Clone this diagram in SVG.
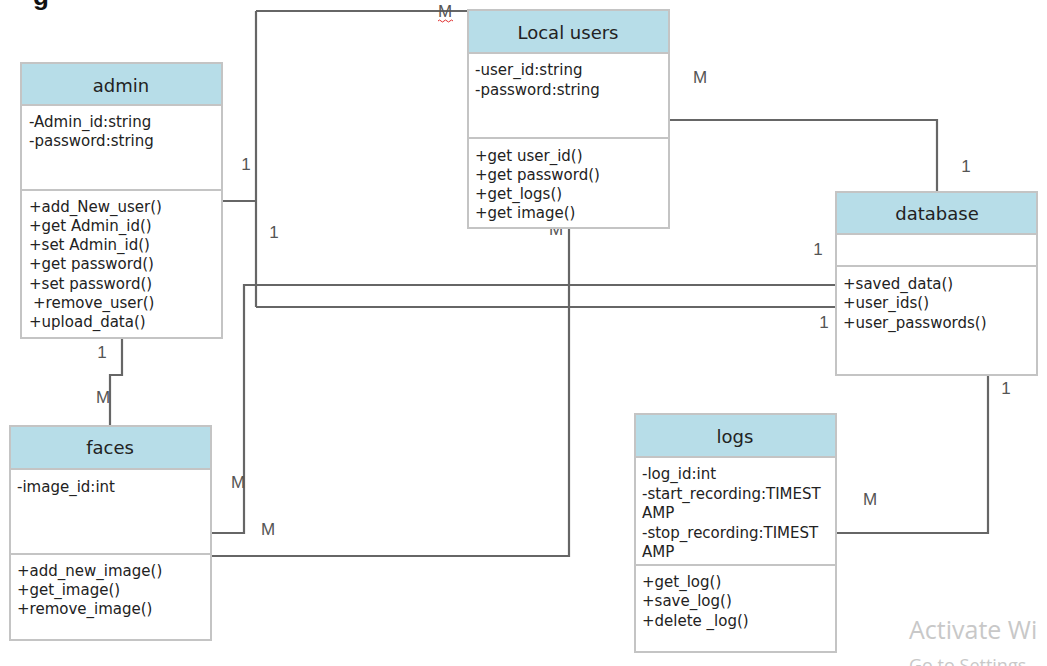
<svg xmlns="http://www.w3.org/2000/svg" width="1047" height="666" viewBox="0 0 1047 666">
  <style>
    .box { fill: #ffffff; stroke: #c4c4c4; stroke-width: 2; }
    .head { fill: #b7dde8; stroke: #c4c4c4; stroke-width: 2; }
    .sep { stroke: #c4c4c4; stroke-width: 2; }
    .title { font-family: "DejaVu Sans", sans-serif; font-size: 18px; fill: #222; text-anchor: middle; }
    .item { font-family: "DejaVu Sans", sans-serif; font-size: 15px; fill: #222; }
    .wire { fill: none; stroke: #666666; stroke-width: 2.2; }
    .mult { font-family: "Liberation Sans", sans-serif; font-size: 17px; fill: #555; text-anchor: middle; }
    .mark { font-family: "Open Sans", "Noto Sans", sans-serif; fill: #c8c8c8; }
  </style>

  <!-- clipped heading above the chart -->
  <text x="33" y="5" font-family="Liberation Sans, sans-serif" font-size="26" font-weight="bold" fill="#111">g</text>

  <!-- associations -->
  <g id="connectors">
    <path class="wire" d="M222,201 H256 M256,11 V307 M256,11 H468 M256,307 H836"/>
    <path class="wire" d="M211,533 H244 V285 H836"/>
    <path class="wire" d="M211,556 H569 V228"/>
    <path class="wire" d="M669,120 H937 V192"/>
    <path class="wire" d="M122,338 V375 H110 V426"/>
    <path class="wire" d="M988,375 V533 H836"/>
  </g>

  <!-- multiplicities -->
  <g id="labels">
    <text class="mult" x="246" y="170">1</text>
    <text class="mult" x="274" y="238">1</text>
    <text class="mult" x="445" y="17">M</text>
    <path d="M438,21 q1.5,-2 3,0 t3,0 t3,0 t3,0 t3,0" fill="none" stroke="#e03030" stroke-width="1"/>
    <text class="mult" x="700" y="83">M</text>
    <text class="mult" x="966" y="172">1</text>
    <text class="mult" x="818" y="255">1</text>
    <text class="mult" x="824" y="328">1</text>
    <text class="mult" x="556" y="235">M</text>
    <text class="mult" x="102" y="358">1</text>
    <text class="mult" x="103" y="403">M</text>
    <text class="mult" x="238" y="488">M</text>
    <text class="mult" x="268" y="535">M</text>
    <text class="mult" x="1006" y="394">1</text>
    <text class="mult" x="870" y="505">M</text>
  </g>

  <g id="admin">
    <rect class="box" x="21" y="63" width="201" height="275"/>
    <rect class="head" x="21" y="63" width="201" height="42"/>
    <line class="sep" x1="21" y1="190" x2="222" y2="190"/>
    <text class="title" x="121" y="92">admin</text>
    <text class="item" x="29" y="127">-Admin_id:string</text>
    <text class="item" x="29" y="146">-password:string</text>
    <text class="item" x="29" y="212">+add_New_user()</text>
    <text class="item" x="29" y="231">+get Admin_id()</text>
    <text class="item" x="29" y="250">+set Admin_id()</text>
    <text class="item" x="29" y="269">+get password()</text>
    <text class="item" x="29" y="289">+set password()</text>
    <text class="item" x="33" y="308">+remove_user()</text>
    <text class="item" x="29" y="327">+upload_data()</text>
  </g>

  <g id="local-users">
    <rect class="box" x="468" y="10" width="201" height="218"/>
    <rect class="head" x="468" y="10" width="201" height="43"/>
    <line class="sep" x1="468" y1="138" x2="669" y2="138"/>
    <text class="title" x="568" y="39">Local users</text>
    <text class="item" x="475" y="75">-user_id:string</text>
    <text class="item" x="475" y="95">-password:string</text>
    <text class="item" x="475" y="161">+get user_id()</text>
    <text class="item" x="475" y="180">+get password()</text>
    <text class="item" x="475" y="199">+get_logs()</text>
    <text class="item" x="475" y="218">+get image()</text>
  </g>

  <g id="database">
    <rect class="box" x="836" y="192" width="201" height="183"/>
    <rect class="head" x="836" y="192" width="201" height="42"/>
    <line class="sep" x1="836" y1="266" x2="1037" y2="266"/>
    <text class="title" x="937" y="220">database</text>
    <text class="item" x="843" y="289">+saved_data()</text>
    <text class="item" x="843" y="308">+user_ids()</text>
    <text class="item" x="843" y="328">+user_passwords()</text>
  </g>

  <g id="faces">
    <rect class="box" x="10" y="426" width="201" height="214"/>
    <rect class="head" x="10" y="426" width="201" height="43"/>
    <line class="sep" x1="10" y1="554" x2="211" y2="554"/>
    <text class="title" x="110" y="454">faces</text>
    <text class="item" x="17" y="492">-image_id:int</text>
    <text class="item" x="17" y="576">+add_new_image()</text>
    <text class="item" x="17" y="595">+get_image()</text>
    <text class="item" x="17" y="614">+remove_image()</text>
  </g>

  <g id="logs">
    <rect class="box" x="635" y="414" width="201" height="238"/>
    <rect class="head" x="635" y="414" width="201" height="43"/>
    <line class="sep" x1="635" y1="565" x2="836" y2="565"/>
    <text class="title" x="735" y="443">logs</text>
    <text class="item" x="642" y="479">-log_id:int</text>
    <text class="item" x="642" y="499">-start_recording:TIMEST</text>
    <text class="item" x="642" y="518">AMP</text>
    <text class="item" x="642" y="538">-stop_recording:TIMEST</text>
    <text class="item" x="642" y="557">AMP</text>
    <text class="item" x="642" y="587">+get_log()</text>
    <text class="item" x="642" y="606">+save_log()</text>
    <text class="item" x="642" y="626">+delete _log()</text>
  </g>

  <!-- system overlay text in the lower right -->
  <text class="mark" x="909" y="639" font-size="25">Activate Wi</text>
  <text class="mark" x="909" y="672" font-size="18">Go to Settings</text>
</svg>
